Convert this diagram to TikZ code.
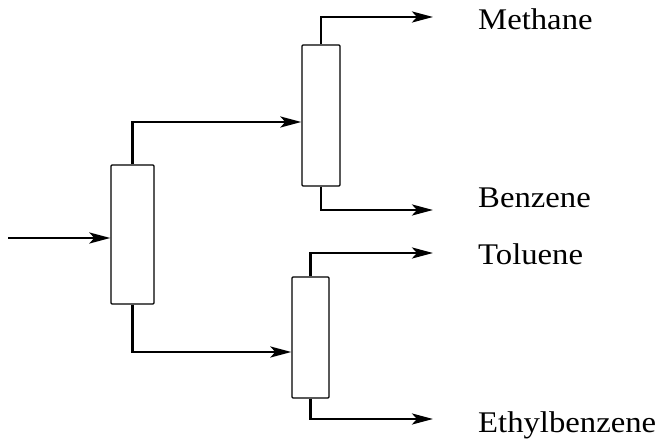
\documentclass[tikz,border=0pt]{standalone}
\usepackage{fontspec}
\setmainfont[FakeStretch=1.09]{Liberation Serif}
\usetikzlibrary{arrows.meta}

\begin{document}
\begin{tikzpicture}[x=1pt, y=1pt,
    column/.style={draw, line width=1.3pt, fill=white, inner sep=0pt, rounded corners=1pt},
    flow/.style={line width=2.7pt, -{Stealth[length=21pt, width=11pt, inset=5pt]}},
    product/.style={anchor=base west, inner sep=0pt, font=\fontsize{30}{33}\selectfont}]
    \useasboundingbox (0, 0) rectangle (655, 441);

    \node [column, minimum width=43, minimum height=139] (col1) at (132.5, 206.5) {};
    \node [column, minimum width=38, minimum height=141] (col2) at (321, 325.5) {};
    \node [column, minimum width=37, minimum height=121] (col3) at (310.5, 103.5) {};

    \coordinate (feed) at (8, 203);
    \coordinate (methaneend) at (433, 424);
    \coordinate (benzeneend) at (433, 231);
    \coordinate (tolueneend) at (433, 188);
    \coordinate (ethylend) at (433, 22);

    \draw [flow] (feed) -- (feed -| col1.west);
    \draw [flow] (col1.north) |- ([yshift=-6.5pt]col2.west);
    \draw [flow] (col1.south) |- ([yshift=-14.5pt]col3.west);

    \draw [flow] (col2.north) |- (methaneend);
    \draw [flow] (col2.south) |- (benzeneend);
    \draw [flow] (col3.north) |- (tolueneend);
    \draw [flow] (col3.south) |- (ethylend);

    \node [product] (methane) at (478, 411) {Methane};
    \node [product] (benzene) at (478, 233) {Benzene};
    \node [product] (toluene) at (478, 176) {Toluene};
    \node [product] (ethyl) at (478, 8) {Ethylbenzene};
\end{tikzpicture}
\end{document}
